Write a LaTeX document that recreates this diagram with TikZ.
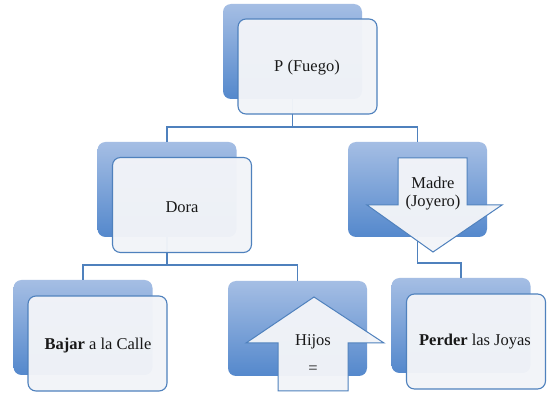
\documentclass[tikz,border=0pt]{standalone}
\usepackage{fontspec}
\setmainfont{Liberation Serif}
\definecolor{edge}{RGB}{79,129,189}
\definecolor{bluetop}{RGB}{165,190,228}
\definecolor{bluebot}{RGB}{84,136,204}
\definecolor{paper}{RGB}{242,244,248}
\tikzset{
  backbox/.style={rounded corners=8pt, top color=bluetop, bottom color=bluebot,
    draw=none, minimum width=139pt, minimum height=95pt, inner sep=0pt},
  frontbox/.style={rounded corners=8pt, fill=paper, fill opacity=0.97, draw=edge,
    line width=1.1pt, minimum width=139pt, minimum height=95pt, inner sep=0pt},
  link/.style={draw=edge, line width=1.2pt},
  txt/.style={font=\fontsize{16.5}{18}\selectfont, text=black!90, align=center, inner sep=0pt},
  pointer/.style={fill=paper, fill opacity=0.97, draw=edge, line width=1pt, line join=miter}
}
\begin{document}
\begin{tikzpicture}[x=1pt, y=-1pt]
  \useasboundingbox (0,0) rectangle (550,393);
  \fill[white] (0,0) rectangle (550,393);

  % shaded back panels
  \node[backbox] (topB)    at (292.5,51.5)  {};
  \node[backbox] (doraB)   at (167,189.5)   {};
  \node[backbox] (madreB)  at (417.5,189.5) {};
  \node[backbox] (bajarB)  at (83,327.5)    {};
  \node[backbox] (hijosB)  at (297.5,328.5) {};
  \node[backbox] (perderB) at (461,325.5)   {};

  % bus levels of the tree
  \coordinate (bus1) at (0,127);
  \coordinate (bus2) at (0,265);
  \coordinate (bus3) at (0,263);

  % connectors
  \draw[link] (topB.south) -- (topB.south |- bus1) -| (doraB.north);
  \draw[link] (topB.south |- bus1) -| (madreB.north);
  \draw[link] (doraB.south) -- (doraB.south |- bus2) -| (bajarB.north);
  \draw[link] (doraB.south |- bus2) -| (hijosB.north);
  \draw[link] (madreB.south) -- (madreB.south |- bus3) -| (perderB.north);

  % front cards
  \node[frontbox] (topF)    at (307.5,66.5)  {};
  \node[frontbox] (doraF)   at (182,205)     {};
  \node[frontbox] (bajarF)  at (97.5,343.5)  {};
  \node[frontbox] (perderF) at (476,341.5)   {};

  % block arrows
  \draw[pointer] (398,158) -- (467,158) -- (467,205) -- (502,205) -- (433,252)
    -- (367,205) -- (398,205) -- cycle;
  \draw[pointer] (314,297) -- (384,343) -- (348,343) -- (348,391) -- (278,391)
    -- (278,343) -- (246,343) -- cycle;

  % labels
  \node[txt] (tP)     at (307,68)  {P (Fuego)};
  \node[txt] (tDora)  at (182,207) {Dora};
  \node[txt] (tMadre) at (433,194) {Madre\\(Joyero)};
  \node[txt] (tBajar) at (98,346)  {\textbf{Bajar} a la Calle};
  \node[txt] (tHijos) at (313,342) {Hijos};
  \node[txt] (tEq)    at (313,370) {=};
  \node[txt] (tPerd)  at (475,342) {\textbf{Perder} las Joyas};
\end{tikzpicture}
\end{document}
